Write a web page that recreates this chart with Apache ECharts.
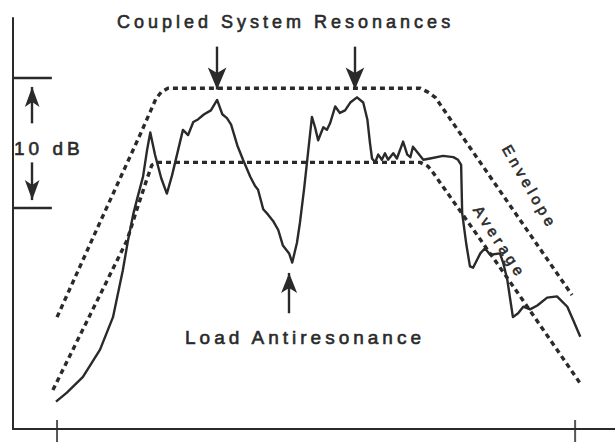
<!DOCTYPE html>
<html><head><meta charset="utf-8">
<script src="https://cdn.jsdelivr.net/npm/echarts@6/dist/echarts.min.js"></script>
<style>
html,body{margin:0;padding:0;background:#fff;}
#c{width:615px;height:447px;}
#c svg text{letter-spacing:4px;}
</style></head>
<body><div id="c"></div>
<script>
// Response curve (x: arbitrary frequency units, 0 and 100 at the two axis ticks; y: dB)
const responseX = [-0.2, 1.9, 5.0, 8.3, 10.8, 12.7, 13.7, 14.7, 15.4, 16.6, 17.4, 18.0, 18.9, 20.1, 21.2, 22.2, 23.4, 24.3, 25.3, 26.3, 27.2, 28.4, 29.7, 30.9, 31.9, 32.8, 33.6, 34.8, 35.9, 37.3, 38.2, 38.8, 39.8, 40.7, 41.7, 42.7, 43.6, 44.8, 45.4, 46.3, 46.9, 47.7, 48.3, 49.2, 49.8, 50.4, 51.4, 52.1, 52.7, 53.7, 54.6, 55.6, 56.6, 57.9, 59.1, 59.9, 60.4, 60.8, 61.4, 62.0, 62.7, 63.3, 63.9, 64.9, 65.6, 66.8, 67.6, 68.2, 68.7, 69.7, 70.7, 72.0, 74.5, 76.5, 77.4, 78.0, 78.2, 79.0, 79.7, 80.3, 81.7, 82.6, 83.6, 85.5, 86.1, 86.9, 87.5, 88.0, 89.0, 90.0, 91.3, 92.7, 94.6, 96.5, 98.5, 99.6, 101.0];
const responseDb = [2.1, 2.8, 4.0, 6.1, 8.6, 12.2, 14.5, 16.5, 17.6, 19.4, 21.5, 22.8, 21.1, 19.3, 18.1, 19.5, 21.5, 23.0, 22.6, 23.6, 23.8, 24.2, 24.5, 25.3, 24.2, 23.9, 23.4, 21.8, 20.7, 19.4, 18.7, 18.4, 16.9, 16.5, 16.0, 15.3, 14.1, 13.5, 12.8, 14.3, 15.9, 18.5, 20.7, 24.0, 23.2, 22.2, 23.2, 23.0, 23.5, 24.8, 24.3, 24.5, 25.1, 25.5, 25.1, 23.8, 22.0, 20.8, 20.5, 21.1, 20.7, 21.2, 20.7, 21.2, 20.8, 22.1, 21.1, 20.9, 21.7, 21.2, 20.7, 20.8, 21.0, 20.9, 20.7, 20.3, 16.6, 14.2, 12.5, 12.4, 13.5, 13.9, 13.4, 13.5, 12.8, 11.5, 9.9, 8.6, 8.9, 9.4, 9.2, 9.5, 10.1, 10.2, 9.4, 8.4, 7.1];

const envelopeX = [0, 8.3, 16.0, 18.0, 19.1, 20.1, 21.4, 70.1, 71.6, 73.0, 99.4];
const envelopeDb = [8.6, 15.9, 22.6, 24.4, 25.4, 25.9, 26.2, 26.2, 25.9, 25.5, 10.3];

const averageX = [-0.8, 13.5, 15.1, 17.0, 18.3, 19.5, 70.1, 71.6, 72.6, 81.3, 89.4, 101.0];
const averageDb = [3.0, 14.5, 16.5, 18.8, 20.3, 20.5, 20.5, 20.2, 19.7, 14.8, 10.2, 3.5];

const xTicks = [0, 100];
const resonanceX = [30.9, 57.5];
const resonanceArrowDb = [29.4, 26.1];     // tail, tip
const antiresonanceX = 44.8;
const antiresonanceArrowDb = [8.9, 12.0];  // tail, tip
const bracketDb = [17.0, 27.0];            // the 10 dB reference levels
const bracketX = [-8.5, -1.0];
const bracketArrowX = -4.8;
const bracketUpArrowDb = [23.5, 26.3];
const bracketDownArrowDb = [20.5, 17.6];

const xMin = -8.5, xMax = 107.7, yMin = 0, yMax = 31.6;

const zip = (xs, ys) => xs.map((x, i) => [x, ys[i]]);
const ink = '#2a2a2a';
const FONT = '"Liberation Sans", Arial, sans-serif';

function arrow(x, from, to, size) {
  return [
    { coord: [x, from], symbol: 'none' },
    { coord: [x, to], symbol: 'arrow', symbolSize: size }
  ];
}
function label(text, x, y, size, align, rot) {
  return {
    type: 'text', x: x, y: y, rotation: (rot || 0) * Math.PI / 180, silent: true,
    style: { text: text, font: size + 'px ' + FONT, fill: ink, stroke: ink, lineWidth: 0.6,
             textAlign: align, textVerticalAlign: 'middle', verticalAlign: 'middle' }
  };
}

const chart = echarts.init(document.getElementById('c'), null, { renderer: 'svg' });
chart.setOption({
  animation: false,
  backgroundColor: '#fff',
  grid: { left: 13, right: 0, top: 18, bottom: 18 },
  xAxis: {
    type: 'value', min: xMin, max: xMax,
    axisLine: { show: true, onZero: false, lineStyle: { color: ink, width: 2 } },
    axisTick: { show: false }, axisLabel: { show: false }, splitLine: { show: false }
  },
  yAxis: {
    type: 'value', min: yMin, max: yMax,
    axisLine: { show: true, onZero: false, lineStyle: { color: ink, width: 2 } },
    axisTick: { show: false }, axisLabel: { show: false }, splitLine: { show: false }
  },
  series: [
    {
      name: 'Envelope', type: 'line', data: zip(envelopeX, envelopeDb),
      showSymbol: false, silent: true,
      lineStyle: { color: ink, width: 3.4, type: [5, 4], cap: 'butt' }
    },
    {
      name: 'Average', type: 'line', data: zip(averageX, averageDb),
      showSymbol: false, silent: true,
      lineStyle: { color: ink, width: 3.4, type: [5, 4], cap: 'butt' }
    },
    {
      name: 'Response', type: 'line', data: zip(responseX, responseDb),
      showSymbol: false, silent: true,
      lineStyle: { color: ink, width: 2.4, join: 'round' },
      markLine: {
        silent: true, animation: false,
        label: { show: false },
        lineStyle: { color: ink, width: 2.4, type: 'solid' },
        symbol: ['none', 'none'],
        data: [
          arrow(resonanceX[0], resonanceArrowDb[0], resonanceArrowDb[1], [14, 22]),
          arrow(resonanceX[1], resonanceArrowDb[0], resonanceArrowDb[1], [14, 22]),
          arrow(antiresonanceX, antiresonanceArrowDb[0], antiresonanceArrowDb[1], [12, 20]),
          arrow(bracketArrowX, bracketUpArrowDb[0], bracketUpArrowDb[1], [11, 20]),
          arrow(bracketArrowX, bracketDownArrowDb[0], bracketDownArrowDb[1], [11, 20]),
          [{ coord: [bracketX[0], bracketDb[0]], symbol: 'none' }, { coord: [bracketX[1], bracketDb[0]], symbol: 'none' }],
          [{ coord: [bracketX[0], bracketDb[1]], symbol: 'none' }, { coord: [bracketX[1], bracketDb[1]], symbol: 'none' }]
        ]
      }
    },
    {
      name: 'ticks', type: 'scatter', clip: false, silent: true,
      data: xTicks.map(x => [x, yMin]),
      symbol: 'rect', symbolSize: [2, 22], symbolOffset: [0, 2],
      itemStyle: { color: ink }
    }
  ],
  graphic: [
    label('Coupled System Resonances', 117, 22, 18, 'left'),
    label('10 dB', 14, 148, 19, 'left'),
    label('Load Antiresonance', 185, 337, 19, 'left'),
    label('Envelope', 530, 187, 15, 'center', -60),
    label('Average', 500, 242, 15, 'center', -57)
  ]
});
</script>
</body></html>
